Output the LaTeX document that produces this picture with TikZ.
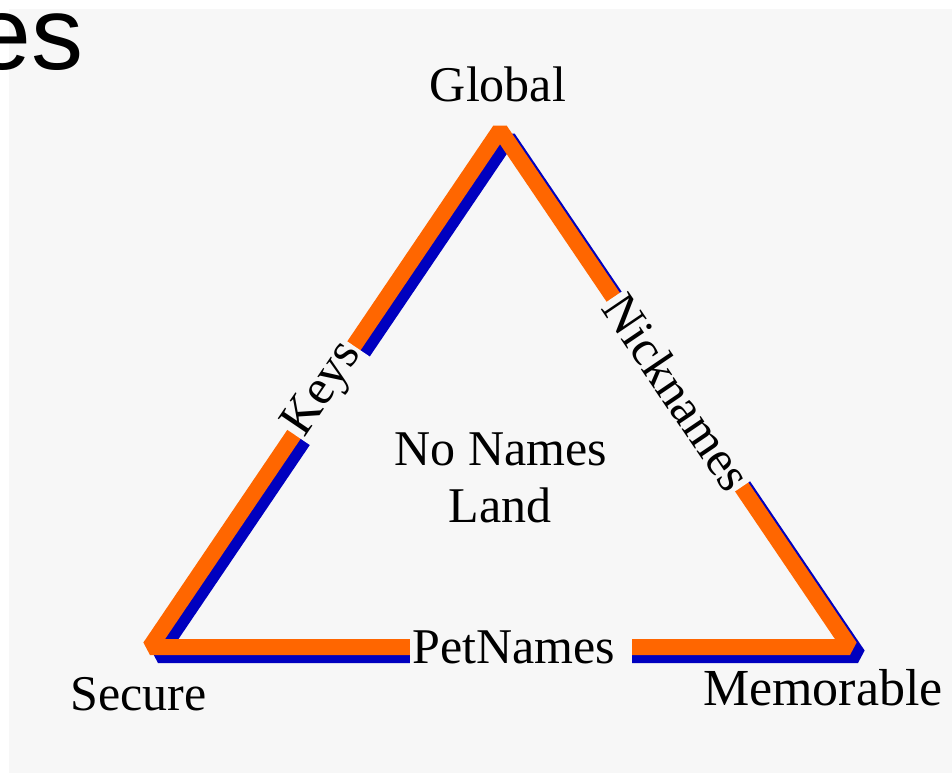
\documentclass[tikz,border=0pt]{standalone}
\usepackage{fontspec}
\setmainfont{Liberation Serif}
\newfontfamily\esfont{Liberation Sans}
\definecolor{bg}{HTML}{F7F7F7}
\definecolor{orng}{HTML}{FF6600}
\definecolor{shadowblue}{HTML}{0000BF}
\begin{document}
\begin{tikzpicture}[x=1pt,y=-1pt,
  lbl/.style={font=\fontsize{50}{56}\selectfont, text=black},
  gaplbl/.style={lbl, fill=bg, inner xsep=2pt, inner ysep=4pt},
  edgeline/.style={line width=16pt, line join=bevel},
]
\useasboundingbox (0,0) rectangle (952,773);
\fill[white] (0,0) rectangle (952,773);
\fill[bg] (9,9) rectangle (952,773);
\node[font=\esfont\fontsize{104}{120}\selectfont, anchor=base east, inner sep=0pt] (es) at (84,70) {es};
\coordinate (A) at (500,130);
\coordinate (B) at (150,647);
\coordinate (C) at (850,647);
\draw[edgeline, shadowblue] ([shift={(8,8)}]B) -- ([shift={(8,8)}]A) -- ([shift={(8,8)}]C) -- cycle;
\draw[edgeline, orng] (B) -- (A) -- (C) -- cycle;
\path (B) -- node[gaplbl, sloped, pos=0.497] (keys) {Keys} (A);
\path (A) -- node[gaplbl, sloped, pos=0.507] (nick) {Nicknames} (C);
\node[gaplbl, anchor=west, text width=218pt] (pet) at (410,647) {PetNames};
\node[lbl, anchor=base] (global) at (498,102) {Global};
\node[lbl, anchor=base west, inner sep=0pt] (secure) at (70,710) {Secure};
\node[lbl, font=\fontsize{52}{58}\selectfont, anchor=base west, inner sep=0pt] (mem) at (703,705) {Memorable};
\node[lbl, anchor=base] (nonames) at (501,465) {No Names};
\node[lbl, anchor=base] (land) at (500,522) {Land};
\end{tikzpicture}
\end{document}
